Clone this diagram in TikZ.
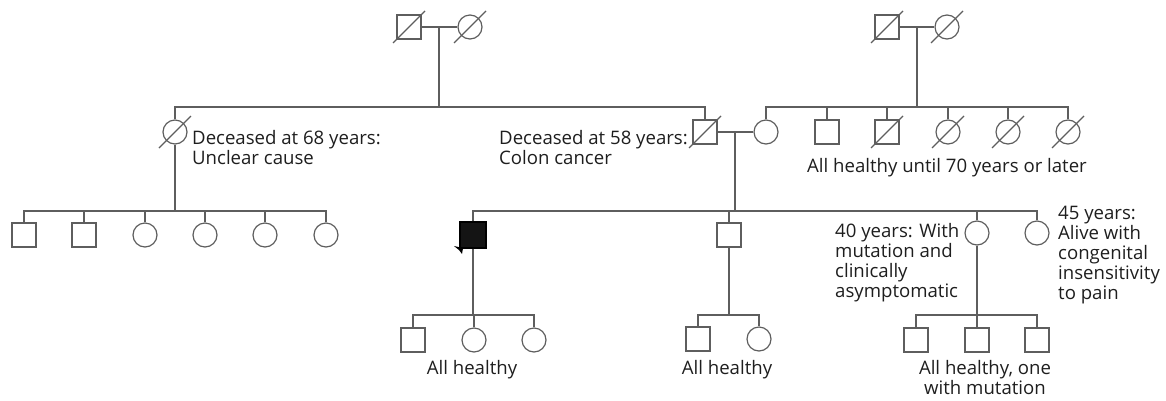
\documentclass[tikz,border=0pt]{standalone}
\usepackage{fontspec}
\setmainfont{Open Sans}
\usetikzlibrary{calc}
\definecolor{pedline}{HTML}{5E5E5E}
\definecolor{pedtext}{HTML}{1E1E1E}
\tikzset{
  person/.style={draw=pedline, line width=1.2pt, inner sep=0pt, minimum size=24pt},
  male/.style={person, rectangle},
  female/.style={person, circle},
  affected/.style={male, fill=black!92, draw=black, minimum size=26pt},
  link/.style={draw=pedline, line width=1.2pt},
  note/.style={font=\fontsize{18.6}{20}\selectfont, text=pedtext, inner sep=0pt, align=left},
}
\newcommand{\slashout}[1]{\draw[link] ($(#1.center)+(-16,16)$) -- ($(#1.center)+(16,-16)$);}
\begin{document}
\begin{tikzpicture}[x=1pt,y=-1pt]
\useasboundingbox (0,0) rectangle (1166,400);
% generation I
\node[male] (gpl) at (409,27) {};
\node[female] (gml) at (470,27) {};
\node[male] (gpr) at (887,27) {};
\node[female] (gmr) at (947,27) {};
% generation II
\node[female] (d68) at (175,132) {};
\node[male] (fa) at (705,132) {};
\node[female] (mo) at (766,132) {};
\node[male] (u1) at (827,132) {};
\node[male] (u2) at (887,132) {};
\node[female] (a1) at (948,132) {};
\node[female] (a2) at (1008,132) {};
\node[female] (a3) at (1068,132) {};
% generation III
\node[male] (k1) at (24,235) {};
\node[male] (k2) at (84,235) {};
\node[female] (k3) at (145,235) {};
\node[female] (k4) at (205,235) {};
\node[female] (k5) at (265,235) {};
\node[female] (k6) at (326,235) {};
\node[affected] (pr) at (473,235) {};
\node[male] (b) at (729,235) {};
\node[female] (c1) at (977,233) {};
\node[female] (c2) at (1037,233) {};
% generation IV
\node[male] (p1) at (413,340) {};
\node[female] (p2) at (474,340) {};
\node[female] (p3) at (534,340) {};
\node[male] (q1) at (698,339) {};
\node[female] (q2) at (759,339) {};
\node[male] (r1) at (916,340) {};
\node[male] (r2) at (977,340) {};
\node[male] (r3) at (1037,340) {};

% couples and sibships
\draw[link] (gpl) -- (gml);
\coordinate (sA) at (439,107);
\draw[link] (gpl.east -| sA) -- (sA);
\draw[link] (d68.north) |- (sA) -| (fa.north);

\draw[link] (gpr) -- (gmr);
\coordinate (sB) at (917,107);
\draw[link] (gpr.east -| sB) -- (sB);
\draw[link] (mo.north) |- (a3.north |- sB) -- (a3.north);
\foreach \n in {u1,u2,a1,a2}
  \draw[link] (\n.north) -- (\n.north |- sB);

\coordinate (sG) at (175,211);
\draw[link] (d68.south) -- (sG);
\draw[link] (k1.north) |- (k6.north |- sG) -- (k6.north);
\foreach \n in {2,...,5}
  \draw[link] (k\n.north) -- (k\n.north |- sG);

\draw[link] (fa) -- (mo);
\coordinate (sC) at (735,211);
\draw[link] (fa.east -| sC) -- (sC);
\draw[link] (pr.north) |- (c2.north |- sC) -- (c2.north);
\foreach \n in {b,c1}
  \draw[link] (\n.north) -- (\n.north |- sC);

\coordinate (sD) at (473,315);
\draw[link] (pr.south) -- (sD);
\draw[link] (p1.north) |- (p3.north |- sD) -- (p3.north);
\draw[link] (p2.north) -- (p2.north |- sD);

\coordinate (sE) at (729,315);
\draw[link] (b.south) -- (sE);
\draw[link] (q1.north) |- (q2.north |- sE) -- (q2.north);

\coordinate (sF) at (977,315);
\draw[link] (c1.south) -- (sF);
\draw[link] (r1.north) |- (r3.north |- sF) -- (r3.north);
\draw[link] (r2.north) -- (r2.north |- sF);

% deceased
\foreach \n in {gpl,gml,gpr,gmr,d68,fa,u2,a1,a2,a3}
  {\slashout{\n}}

% proband arrow
\fill[black] (454,246) -- (463,248) -- (462,254) -- (459,250) -- cycle;

% notes
\node[note, anchor=west] (t68) at (192,148) {Deceased at 68 years:\\Unclear cause};
\node[note, anchor=east] (t58) at (688,148) {Deceased at 58 years:\\Colon cancer};
\node[note] (t70) at (947,168) {All healthy until 70 years or later};
\node[note, anchor=north west] (t40) at (835,223) {40 years: With\\mutation and\\clinically\\asymptomatic};
\node[note, anchor=north west] (t45) at (1058,206) {45 years:\\Alive with\\congenital\\insensitivity\\to pain};
\node[note] (h1) at (472,370) {All healthy};
\node[note] (h2) at (727,370) {All healthy};
\node[note, align=center] (h3) at (985,378) {All healthy, one\\with mutation};
\end{tikzpicture}
\end{document}
